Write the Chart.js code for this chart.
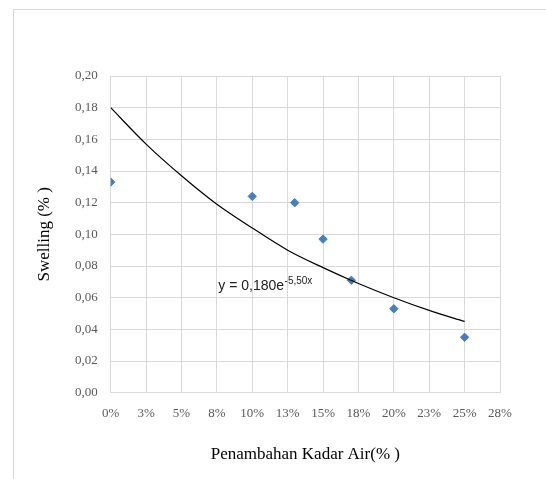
<!DOCTYPE html>
<html>
<head>
<meta charset="utf-8">
<script src="https://cdn.jsdelivr.net/npm/chart.js@4.4.1/dist/chart.umd.min.js"></script>
<style>
  body { margin: 0; background: #fff; }
  #wrap { width: 546px; height: 479px; }
</style>
</head>
<body>
<div id="wrap"><canvas id="swell" width="546" height="479"></canvas></div>
<script>
// measured points (kadar air, swelling)
const kadarAir = [0, 0.10, 0.13, 0.15, 0.17, 0.20, 0.25];
const swelling = [0.133, 0.124, 0.120, 0.097, 0.071, 0.053, 0.035];

// trendline
const trendX = [0, 0.025, 0.05, 0.075, 0.10, 0.125, 0.15, 0.175, 0.20, 0.225, 0.25];
const trendY = [0.180, 0.157, 0.137, 0.119, 0.104, 0.090, 0.079, 0.069, 0.060, 0.052, 0.045];

const xTickValues = [0, 0.025, 0.05, 0.075, 0.10, 0.125, 0.15, 0.175, 0.20, 0.225, 0.25, 0.275];
const xTickLabels = ['0%', '3%', '5%', '8%', '10%', '13%', '15%', '18%', '20%', '23%', '25%', '28%'];
const yTickValues = [0, 0.02, 0.04, 0.06, 0.08, 0.10, 0.12, 0.14, 0.16, 0.18, 0.20];
const yTickLabels = ['0,00', '0,02', '0,04', '0,06', '0,08', '0,10', '0,12', '0,14', '0,16', '0,18', '0,20'];

const eqMain = 'y = 0,180e';
const eqExp = '-5,50x';
const eqAt = { x: 0.076, y: 0.065 };

const gridCol = '#d9d9d9';
const tickFont = { family: '"Liberation Serif", "Times New Roman", serif', size: 13 };
const titleFont = { family: '"Liberation Serif", "Times New Roman", serif', size: 17 };

const frame = {
    id: 'frame',
    beforeDraw(chart) {
        const c = chart.ctx;
        c.save();
        c.fillStyle = '#fff';
        c.fillRect(0, 0, chart.width, chart.height);
        c.strokeStyle = gridCol;
        c.lineWidth = 1;
        c.strokeRect(13.5, 9.5, chart.width + 20, chart.height + 20);
        c.restore();
    },
    afterDatasetsDraw(chart) {
        const c = chart.ctx;
        const px = chart.scales.x.getPixelForValue(eqAt.x);
        const py = chart.scales.y.getPixelForValue(eqAt.y);
        c.save();
        c.fillStyle = '#222';
        c.textBaseline = 'alphabetic';
        c.font = '14px "Liberation Sans", Arial, sans-serif';
        c.fillText(eqMain, px, py);
        const w = c.measureText(eqMain).width;
        c.font = '10px "Liberation Sans", Arial, sans-serif';
        c.fillText(eqExp, px + w + 0.5, py - 6);
        c.restore();
    }
};

const ctx = document.getElementById('swell');
const swellChart = new Chart(ctx, {
    type: 'scatter',
    data: {
        datasets: [
            {
                label: 'trend',
                data: trendX.map((x, i) => ({ x: x, y: trendY[i] })),
                showLine: true,
                borderColor: '#000',
                borderWidth: 1.2,
                pointRadius: 0,
                cubicInterpolationMode: 'monotone',
                order: 1
            },
            {
                label: 'Swelling',
                data: kadarAir.map((x, i) => ({ x: x, y: swelling[i] })),
                backgroundColor: '#4a7ebb',
                borderColor: '#4a7ebb',
                pointStyle: 'rectRot',
                pointRadius: 4.2,
                order: 2
            }
        ]
    },
    options: {
        responsive: false,
        animation: false,
        layout: { padding: { top: 76, right: 46, left: 0, bottom: 0 } },
        plugins: { legend: { display: false }, tooltip: { enabled: false } },
        scales: {
            x: {
                type: 'linear',
                min: 0,
                max: 0.275,
                afterBuildTicks: s => { s.ticks = xTickValues.map(v => ({ value: v })); },
                afterFit: s => { s.height = 86.3; },
                grid: { color: gridCol, drawTicks: false },
                border: { color: gridCol },
                ticks: {
                    padding: 13,
                    color: '#595959',
                    font: tickFont,
                    maxRotation: 0,
                    autoSkip: false,
                    callback: (v, i) => xTickLabels[i]
                },
                title: {
                    display: true,
                    text: 'Penambahan Kadar Air(% )',
                    color: '#000',
                    font: titleFont,
                    padding: { top: 0, bottom: 14 }
                }
            },
            y: {
                min: 0,
                max: 0.2,
                afterBuildTicks: s => { s.ticks = yTickValues.map(v => ({ value: v })); },
                afterFit: s => { s.width = 110.7; },
                grid: { color: gridCol, drawTicks: false },
                border: { color: gridCol },
                ticks: {
                    padding: 13,
                    color: '#595959',
                    font: tickFont,
                    callback: (v, i) => yTickLabels[i]
                },
                title: {
                    display: true,
                    text: 'Swelling (% )',
                    color: '#000',
                    font: titleFont,
                    padding: { top: 34, bottom: 0 }
                }
            }
        }
    },
    plugins: [frame]
});
</script>
</body>
</html>
